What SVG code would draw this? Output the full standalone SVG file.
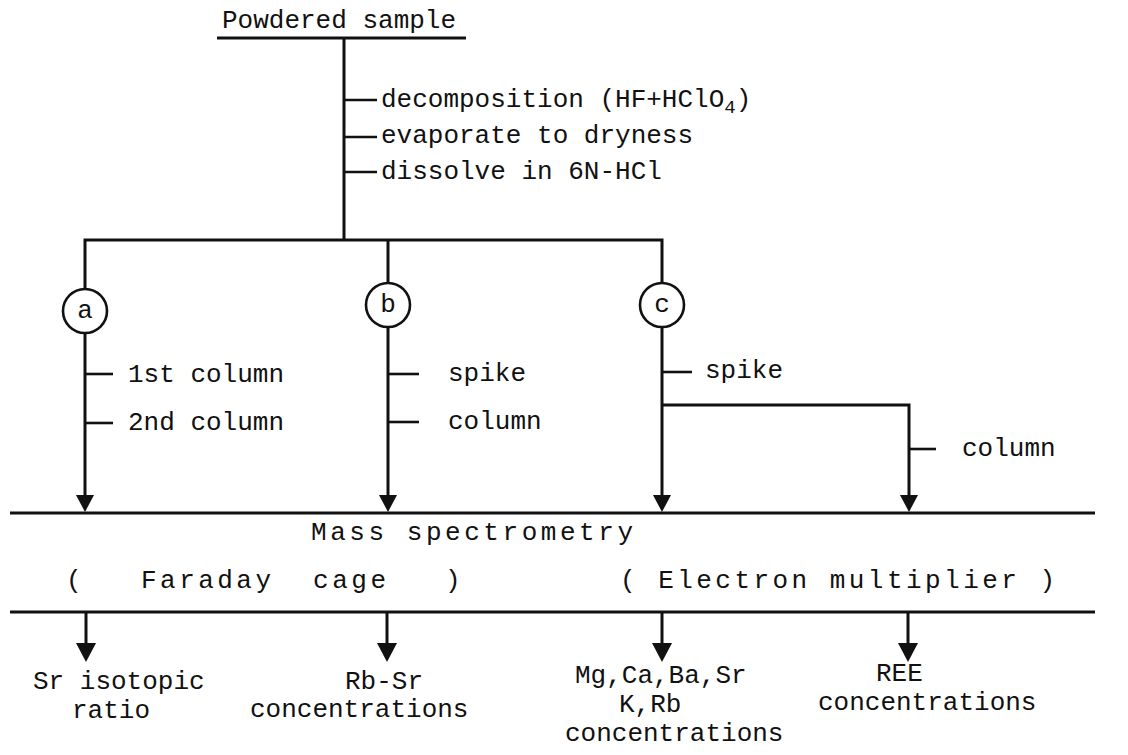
<svg xmlns="http://www.w3.org/2000/svg" width="1128" height="755" viewBox="0 0 1128 755">
<defs>
<style>
text{font-family:"Liberation Mono","DejaVu Sans Mono",monospace;font-size:26px;fill:#111}
.ln{stroke:#111;stroke-width:3;fill:none}
.thin{stroke:#111;stroke-width:2.6;fill:none}
.circ{stroke:#111;stroke-width:2.6;fill:#fff}
.ah{fill:#111}
</style>
</defs>
<rect width="1128" height="755" fill="#fff"/>

<g id="title">
<text x="222" y="28">Powdered sample</text>
<line class="ln" x1="217" y1="38" x2="466" y2="38"/>
</g>

<g id="connectors">
<line class="ln" x1="344" y1="38" x2="344" y2="241"/>
<line class="thin" x1="344" y1="100" x2="377" y2="100"/>
<line class="thin" x1="344" y1="137" x2="377" y2="137"/>
<line class="thin" x1="344" y1="172" x2="377" y2="172"/>
<polyline class="ln" points="85,289 85,240 662,240 662,283"/>
<line class="ln" x1="388" y1="240" x2="388" y2="283"/>
<!-- branch a -->
<line class="ln" x1="85" y1="333" x2="85" y2="496"/>
<path class="ah" d="M76,495 L94,495 L85,512 Z"/>
<line class="thin" x1="85" y1="374" x2="113" y2="374"/>
<line class="thin" x1="85" y1="423" x2="113" y2="423"/>
<!-- branch b -->
<line class="ln" x1="388" y1="327" x2="388" y2="496"/>
<path class="ah" d="M379,495 L397,495 L388,512 Z"/>
<line class="thin" x1="388" y1="374" x2="419" y2="374"/>
<line class="thin" x1="388" y1="422" x2="419" y2="422"/>
<!-- branch c -->
<line class="ln" x1="662" y1="327" x2="662" y2="496"/>
<path class="ah" d="M653,495 L671,495 L662,512 Z"/>
<line class="thin" x1="662" y1="372" x2="692" y2="372"/>
<polyline class="ln" points="662,405 909,405 909,496"/>
<path class="ah" d="M900,495 L918,495 L909,512 Z"/>
<line class="thin" x1="909" y1="449" x2="936" y2="449"/>
<!-- output arrows -->
<line class="ln" x1="86" y1="612" x2="86" y2="644"/>
<path class="ah" d="M76,643 L96,643 L86,662 Z"/>
<line class="ln" x1="387" y1="612" x2="387" y2="644"/>
<path class="ah" d="M377,643 L397,643 L387,662 Z"/>
<line class="ln" x1="662" y1="612" x2="662" y2="644"/>
<path class="ah" d="M652,643 L672,643 L662,662 Z"/>
<line class="ln" x1="908" y1="612" x2="908" y2="644"/>
<path class="ah" d="M898,643 L918,643 L908,662 Z"/>
</g>

<g id="steps">
<text x="381" y="107">decomposition (HF+HClO<tspan font-size="19" dy="6">4</tspan><tspan dy="-6">)</tspan></text>
<text x="381" y="143">evaporate to dryness</text>
<text x="381" y="179">dissolve in 6N-HCl</text>
</g>

<g id="node-a">
<circle class="circ" cx="85" cy="311" r="22"/>
<text x="85" y="318" text-anchor="middle">a</text>
<text x="128" y="382">1st column</text>
<text x="128" y="430">2nd column</text>
</g>
<g id="node-b">
<circle class="circ" cx="388" cy="305" r="22"/>
<text x="388" y="312" text-anchor="middle">b</text>
<text x="448" y="381">spike</text>
<text x="448" y="429">column</text>
</g>
<g id="node-c">
<circle class="circ" cx="662" cy="305" r="22"/>
<text x="662" y="312" text-anchor="middle">c</text>
<text x="705" y="378">spike</text>
<text x="962" y="456">column</text>
</g>

<g id="mass-spec">
<line class="ln" x1="10" y1="513" x2="1095" y2="513"/>
<text x="311" y="540" textLength="322" lengthAdjust="spacing">Mass spectrometry</text>
<text x="66" y="588">(</text>
<text x="141" y="588" textLength="130" lengthAdjust="spacing">Faraday</text>
<text x="313" y="588" textLength="73" lengthAdjust="spacing">cage</text>
<text x="445" y="588">)</text>
<text x="620" y="588" textLength="435" lengthAdjust="spacing">( Electron multiplier )</text>
<line class="ln" x1="10" y1="612" x2="1095" y2="612"/>
</g>

<g id="out-sr">
<text x="33" y="689">Sr isotopic</text>
<text x="72" y="718">ratio</text>
</g>
<g id="out-rbsr">
<text x="345" y="689">Rb-Sr</text>
<text x="250" y="717">concentrations</text>
</g>
<g id="out-elements">
<text x="575" y="683">Mg,Ca,Ba,Sr</text>
<text x="619" y="712">K,Rb</text>
<text x="565" y="741">concentrations</text>
</g>
<g id="out-ree">
<text x="876" y="681">REE</text>
<text x="818" y="710">concentrations</text>
</g>
</svg>
